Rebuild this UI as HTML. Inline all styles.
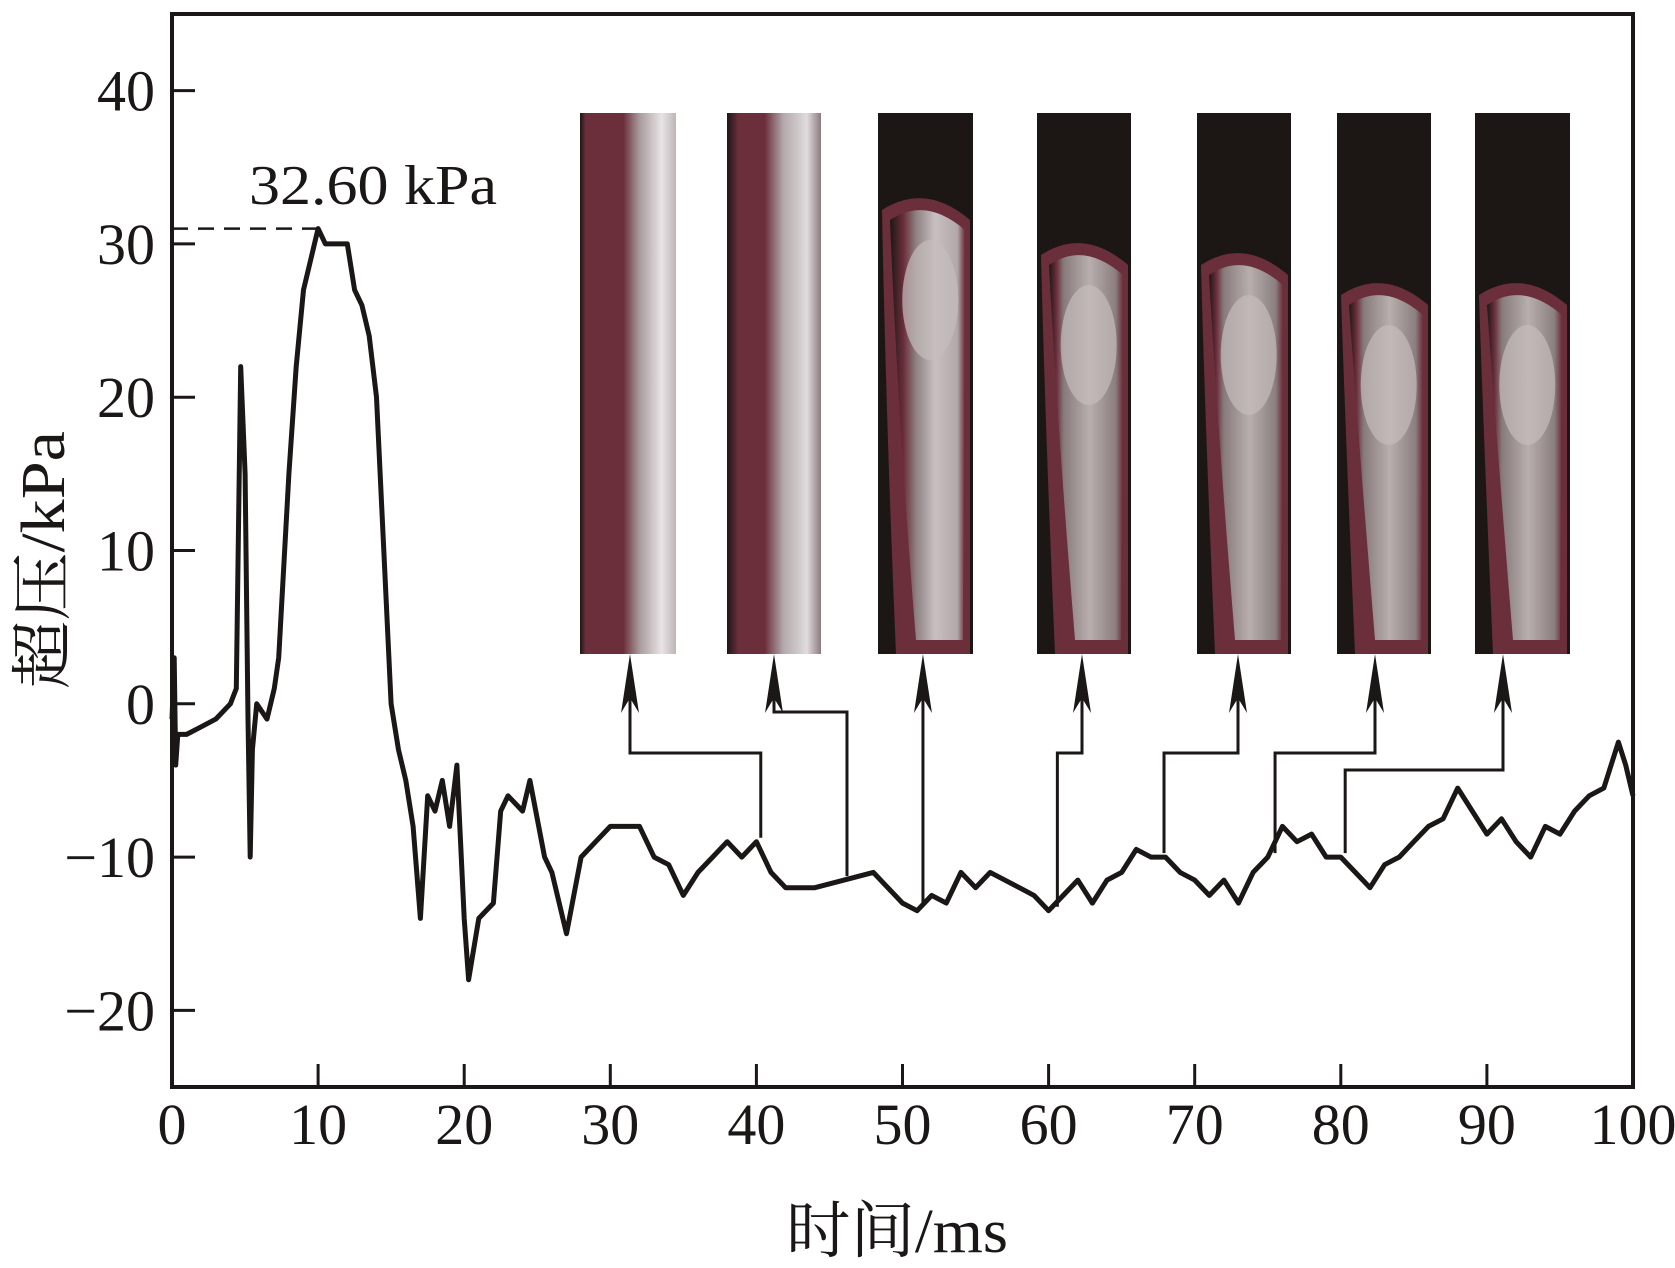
<!DOCTYPE html>
<html><head><meta charset="utf-8">
<style>
html,body{margin:0;padding:0;background:#fff;}
svg{display:block;}
text{font-family:"Liberation Serif","Noto Serif CJK SC",serif;fill:#1a1716;}
</style></head>
<body>
<svg id="chart" width="1675" height="1268" viewBox="0 0 1675 1268" xmlns="http://www.w3.org/2000/svg">
<defs>
  <linearGradient id="g1" x1="0" x2="1" y1="0" y2="0">
    <stop offset="0" stop-color="#1c1715"/><stop offset="0.06" stop-color="#6b2e3b"/><stop offset="0.45" stop-color="#6b2e3b"/><stop offset="0.62" stop-color="#a89b9c"/><stop offset="0.85" stop-color="#e8e3e6"/><stop offset="1" stop-color="#bfb5b5"/>
  </linearGradient>
  <linearGradient id="g2" x1="0" x2="1" y1="0" y2="0">
    <stop offset="0" stop-color="#1c1715"/><stop offset="0.12" stop-color="#6b2e3b"/><stop offset="0.4" stop-color="#6b2e3b"/><stop offset="0.6" stop-color="#b3a9ab"/><stop offset="0.85" stop-color="#e0dbde"/><stop offset="1" stop-color="#8a7c7e"/>
  </linearGradient>
  <linearGradient id="g3" x1="0" x2="1" y1="0" y2="0">
    <stop offset="0" stop-color="#1c1715"/><stop offset="0.18" stop-color="#6b2e3b"/><stop offset="0.35" stop-color="#8e8282"/><stop offset="0.6" stop-color="#c8bfc2"/><stop offset="0.9" stop-color="#b2a8a8"/><stop offset="1" stop-color="#6b2e3b"/>
  </linearGradient>
  <linearGradient id="g4" x1="0" x2="1" y1="0" y2="0">
    <stop offset="0" stop-color="#1c1715"/><stop offset="0.1" stop-color="#6b2e3b"/><stop offset="0.2" stop-color="#877b7b"/><stop offset="0.55" stop-color="#b9aeae"/><stop offset="0.9" stop-color="#8a7e7e"/><stop offset="1" stop-color="#6b2e3b"/>
  </linearGradient>
</defs>
<g id="frame"></g>
<g id="panels"></g>
<g id="connectors"></g>
<g id="series"></g>
<g id="axes"></g>
<text x="249" y="204" font-size="56" textLength="248" lengthAdjust="spacingAndGlyphs">32.60 kPa</text>
<text x="897" y="1252" font-size="62" text-anchor="middle" textLength="222" lengthAdjust="spacingAndGlyphs">时间/ms</text>
<text transform="translate(64,560) rotate(-90)" font-size="62" text-anchor="middle" textLength="258" lengthAdjust="spacingAndGlyphs">超压/kPa</text>
</svg>
<script>
const timeMs = [0,0.15,0.25,0.4,1,2,3,4,4.4,4.7,5.0,5.2,5.35,5.5,5.8,6.5,7,7.3,8,8.5,9,9.5,10,10.5,11,12,12.5,13,13.5,14,14.5,15,15.5,16,16.5,17,17.5,18,18.5,19,19.5,20,20.3,21,22,22.5,23,24,24.5,25.5,26,27,28,29,30,32,33,34,35,36,37,38,39,40,41,42,44,46,48,50,51,52,53,54,55,56,57,58,59,60,61,62,63,64,65,66,67,68,69,70,71,72,73,74,75,76,77,78,79,80,81,82,83,84,85,86,87,88,89,90,91,92,93,94,95,96,97,98,99,99.5,100];
const pressureKPa = [-1,3,-4,-2,-2,-1.5,-1,0,1,22,15,-1,-10,-3,0,-1,1,3,15,22,27,29,31,30,30,30,27,26,24,20,10,0,-3,-5,-8,-14,-6,-7,-5,-8,-4,-14,-18,-14,-13,-7,-6,-7,-5,-10,-11,-15,-10,-9,-8,-8,-10,-10.5,-12.5,-11,-10,-9,-10,-9,-11,-12,-12,-11.5,-11,-13,-13.5,-12.5,-13,-11,-12,-11,-11.5,-12,-12.5,-13.5,-12.5,-11.5,-13,-11.5,-11,-9.5,-10,-10,-11,-11.5,-12.5,-11.5,-13,-11,-10,-8,-9,-8.5,-10,-10,-11,-12,-10.5,-10,-9,-8,-7.5,-5.5,-7,-8.5,-7.5,-9,-10,-8,-8.5,-7,-6,-5.5,-2.5,-4,-6];
const xTicks = [0,10,20,30,40,50,60,70,80,90,100];
const yTicks = [-20,-10,0,10,20,30,40];
const xTickLabels = ["0","10","20","30","40","50","60","70","80","90","100"];
const yTickLabels = ["\u221220","\u221210","0","10","20","30","40"];
const peakValue = 31;
const peakTime = 10;
const imageTimes = [40.3,46.2,51.4,60.6,67.9,75.5,80.3];

const NS="http://www.w3.org/2000/svg";
const X0=172,X1=1633,Y0=1087,Y1=14;
const xMin=0,xMax=100,yMin=-25,yMax=45;
function xs(v){return X0+(v-xMin)/(xMax-xMin)*(X1-X0);}
function ys(v){return Y0-(v-yMin)/(yMax-yMin)*(Y0-Y1);}
function mk(tag,attrs,parent){const e=document.createElementNS(NS,tag);for(const k in attrs)e.setAttribute(k,attrs[k]);parent.appendChild(e);return e;}

const frame=document.getElementById('frame');
const fr=mk('rect',{x:X0,y:Y1,width:X1-X0,height:Y0-Y1,fill:'none',stroke:'#1a1716','stroke-width':4},frame);



const panelX=[580,727,878,1037,1197,1337,1475];
const panelW=[96,94,95,94,94,94,95];
const panelFill=['url(#g1)','url(#g2)','url(#g3)','url(#g4)','url(#g4)','url(#g4)','url(#g4)'];
const flameTop=[113,113,190,235,245,275,275];
const panels=document.getElementById('panels');
for(let i=0;i<panelX.length;i++){
  const g=mk('g',{},panels);
  
  
  mk('rect',{x:panelX[i],y:113,width:panelW[i],height:541,fill:'#1c1715'},g);
  if(i<2){
    mk('rect',{x:panelX[i],y:113,width:panelW[i],height:541,fill:panelFill[i]},g);
  } else {
    mk('path',{d:`M${panelX[i]+4},${flameTop[i]+20} Q${panelX[i]+panelW[i]/2},${flameTop[i]-8} ${panelX[i]+panelW[i]-3},${flameTop[i]+30} L${panelX[i]+panelW[i]-3},654 L${panelX[i]+18},654 Q${panelX[i]+8},420 ${panelX[i]+4},${flameTop[i]+20} Z`,fill:'#6b2e3b'},g);
    mk('path',{d:`M${panelX[i]+12},${flameTop[i]+30} Q${panelX[i]+panelW[i]/2},${flameTop[i]+6} ${panelX[i]+panelW[i]-8},${flameTop[i]+40} L${panelX[i]+panelW[i]-10},640 L${panelX[i]+38},640 Q${panelX[i]+20},420 ${panelX[i]+12},${flameTop[i]+30} Z`,fill:panelFill[i]},g);
    mk('ellipse',{cx:panelX[i]+panelW[i]*0.55,cy:flameTop[i]+110,rx:28,ry:60,fill:'#c4bcbc',opacity:0.7},g);
  }
}

const conn=document.getElementById('connectors');
const arrowX=[630,774,923,1082,1238,1375,1503];
const elbowY=[753,712,null,753,753,753,770];
imageTimes.forEach((t,i)=>{
  const tx=xs(t);
  let idx=0;for(let k=0;k<timeMs.length;k++){if(timeMs[k]<=t)idx=k;}
  const cy=ys(pressureKPa[idx])-4;
  let d;
  if(elbowY[i]===null) d=`M${tx},${cy} L${tx},690`;
  else d=`M${tx},${cy} L${tx},${elbowY[i]} L${arrowX[i]},${elbowY[i]} L${arrowX[i]},690`;
  const p=mk('path',{d:d,fill:'none',stroke:'#1a1716','stroke-width':3},conn);
  
  
  const ax=elbowY[i]===null?tx:arrowX[i];
  const a=mk('path',{d:`M${ax},654 L${ax+9},713 L${ax},698 L${ax-9},713 Z`,fill:'#1a1716'},conn);
  
  
});

const series=document.getElementById('series');
const pts=timeMs.map((t,i)=>xs(t).toFixed(1)+','+ys(pressureKPa[i]).toFixed(1)).join(' ');
const line=mk('polyline',{points:pts,fill:'none',stroke:'#1a1716','stroke-width':5,'stroke-linejoin':'round'},series);


const dash=mk('line',{x1:X0,y1:ys(peakValue),x2:xs(peakTime),y2:ys(peakValue),stroke:'#1a1716','stroke-width':2.5,'stroke-dasharray':'16,10'},series);



const axes=document.getElementById('axes');
xTicks.forEach((v,i)=>{
  if(v>xMin&&v<xMax){
    const t=mk('line',{x1:xs(v),y1:Y0,x2:xs(v),y2:Y0-23,stroke:'#1a1716','stroke-width':3},axes);
    
    
  }
  const l=mk('text',{x:xs(v),y:1144,'font-size':58,'text-anchor':'middle'},axes);
  l.textContent=xTickLabels[i];
  
  
});
yTicks.forEach((v,i)=>{
  const t=mk('line',{x1:X0,y1:ys(v),x2:X0+23,y2:ys(v),stroke:'#1a1716','stroke-width':3},axes);
  
  
  const l=mk('text',{x:155,y:ys(v)+20,'font-size':58,'text-anchor':'end'},axes);
  l.textContent=yTickLabels[i];
  
  
});
</script>
</body></html>
